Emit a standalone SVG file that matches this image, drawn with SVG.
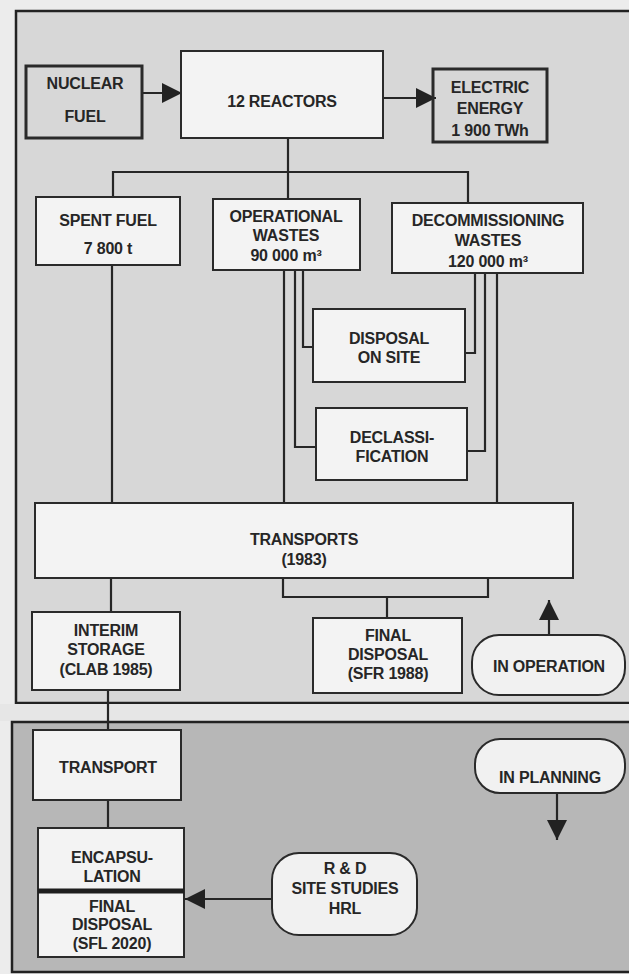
<svg xmlns="http://www.w3.org/2000/svg" width="629" height="974" viewBox="0 0 629 974">
<defs>
<style>
.t{font-family:"Liberation Sans",Arial,sans-serif;font-weight:bold;font-size:16px;letter-spacing:-0.2px;fill:#262626;text-anchor:middle}
.box{fill:#f3f3f3;stroke:#2a2a2a;stroke-width:2}
.tbox{fill:none;stroke:#2a2a2a;stroke-width:3}
.pill{fill:#f1f1f1;stroke:#2a2a2a;stroke-width:2}
.ln{fill:none;stroke:#262626;stroke-width:2.2}
</style>
<marker id="ahb" viewBox="0 0 10 10" refX="10" refY="5" markerWidth="20" markerHeight="20" markerUnits="userSpaceOnUse" orient="auto">
<path d="M0,0 L10,5 L0,10 z" fill="#222"/>
</marker>
</defs>
<rect x="0" y="0" width="629" height="974" fill="#ececec"/>
<!-- panels -->
<rect id="panel-operation" x="16" y="11" width="625" height="692" fill="#d7d7d7" stroke="#222" stroke-width="2.5"/>
<rect x="0" y="704" width="629" height="17" fill="#e6e6e6"/>
<rect id="panel-planning" x="12" y="722" width="630" height="250" fill="#b7b7b7" stroke="#222" stroke-width="2.5"/>

<g id="connectors">
<line class="ln" x1="142" y1="93" x2="182" y2="93" marker-end="url(#ahb)"/>
<line class="ln" x1="383" y1="98" x2="436" y2="98" marker-end="url(#ahb)"/>
<path class="ln" d="M288,138 V198"/>
<path class="ln" d="M113,197 V172 H468 V203"/>
<path class="ln" d="M112,265 V503"/>
<path class="ln" d="M284,270 V503"/>
<path class="ln" d="M295,270 V447 H316"/>
<path class="ln" d="M303,270 V347 H313"/>
<path class="ln" d="M475,273 V353 H465"/>
<path class="ln" d="M485,273 V451 H467"/>
<path class="ln" d="M497,273 V503"/>
<path class="ln" d="M283,578 V597 H488 V578"/>
<path class="ln" d="M387,597 V618"/>
<path class="ln" d="M111,578 V612"/>
<path class="ln" d="M108,690 V730"/>
<path class="ln" d="M108,800 V828"/>
<line class="ln" x1="549" y1="635" x2="549" y2="600" marker-end="url(#ahb)"/>
<line class="ln" x1="557" y1="793" x2="557" y2="840" marker-end="url(#ahb)"/>
<line class="ln" x1="272" y1="899" x2="185" y2="899" marker-end="url(#ahb)"/>
</g>

<g id="nuclear-fuel">
<rect class="tbox" x="26" y="66" width="116" height="72"/>
<text class="t" x="85" y="89">NUCLEAR</text>
<text class="t" x="85" y="122">FUEL</text>
</g>
<g id="reactors">
<rect class="box" x="181" y="51" width="202" height="87"/>
<text class="t" x="282" y="107">12 REACTORS</text>
</g>
<g id="electric-energy">
<rect class="tbox" x="433" y="69" width="114" height="73"/>
<text class="t" x="490" y="93">ELECTRIC</text>
<text class="t" x="490" y="114">ENERGY</text>
<text class="t" x="490" y="136">1 900 TWh</text>
</g>
<g id="spent-fuel">
<rect class="box" x="36" y="197" width="144" height="68"/>
<text class="t" x="108" y="226">SPENT FUEL</text>
<text class="t" x="108" y="254">7 800 t</text>
</g>
<g id="operational-wastes">
<rect class="box" x="213" y="199" width="147" height="71"/>
<text class="t" x="286" y="222">OPERATIONAL</text>
<text class="t" x="286" y="241">WASTES</text>
<text class="t" x="286" y="261">90 000 m³</text>
</g>
<g id="decommissioning-wastes">
<rect class="box" x="392" y="203" width="191" height="70"/>
<text class="t" x="488" y="226">DECOMMISSIONING</text>
<text class="t" x="488" y="246">WASTES</text>
<text class="t" x="488" y="267">120 000 m³</text>
</g>
<g id="disposal-on-site">
<rect class="box" x="313" y="309" width="152" height="73"/>
<text class="t" x="389" y="344">DISPOSAL</text>
<text class="t" x="389" y="363">ON SITE</text>
</g>
<g id="declassification">
<rect class="box" x="316" y="408" width="151" height="72"/>
<text class="t" x="392" y="443">DECLASSI-</text>
<text class="t" x="392" y="462">FICATION</text>
</g>
<g id="transports">
<rect class="box" x="35" y="503" width="538" height="75"/>
<text class="t" x="304" y="545">TRANSPORTS</text>
<text class="t" x="304" y="565">(1983)</text>
</g>
<g id="interim-storage">
<rect class="box" x="32" y="612" width="148" height="78"/>
<text class="t" x="106" y="636">INTERIM</text>
<text class="t" x="106" y="655">STORAGE</text>
<text class="t" x="106" y="675">(CLAB 1985)</text>
</g>
<g id="final-disposal-sfr">
<rect class="box" x="313" y="618" width="149" height="75"/>
<text class="t" x="388" y="641">FINAL</text>
<text class="t" x="388" y="660">DISPOSAL</text>
<text class="t" x="388" y="679">(SFR 1988)</text>
</g>
<g id="in-operation">
<rect class="pill" x="472" y="635" width="153" height="60" rx="27"/>
<text class="t" x="549" y="672">IN OPERATION</text>
</g>
<g id="transport">
<rect class="box" x="33" y="730" width="148" height="70"/>
<text class="t" x="108" y="773">TRANSPORT</text>
</g>
<g id="encapsulation-final-disposal">
<rect class="box" x="38" y="828" width="146" height="129"/>
<line x1="38" y1="891" x2="184" y2="891" stroke="#1e1e1e" stroke-width="5"/>
<text class="t" x="112" y="863">ENCAPSU-</text>
<text class="t" x="112" y="882">LATION</text>
<text class="t" x="112" y="912">FINAL</text>
<text class="t" x="112" y="930">DISPOSAL</text>
<text class="t" x="112" y="949">(SFL 2020)</text>
</g>
<g id="rd-site-studies">
<rect class="pill" x="272" y="853" width="145" height="82" rx="27"/>
<text class="t" x="345" y="874">R &amp; D</text>
<text class="t" x="345" y="894">SITE STUDIES</text>
<text class="t" x="345" y="914">HRL</text>
</g>
<g id="in-planning">
<rect class="pill" x="475" y="739" width="150" height="54" rx="25"/>
<text class="t" x="550" y="783">IN PLANNING</text>
</g>
</svg>
